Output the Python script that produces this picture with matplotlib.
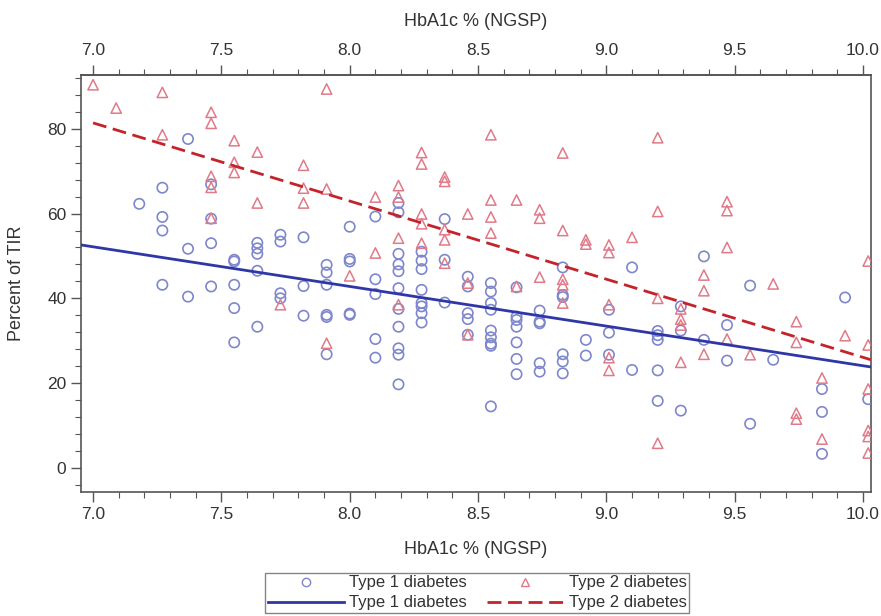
import matplotlib
matplotlib.use("Agg")
import matplotlib.pyplot as plt
from matplotlib.ticker import MultipleLocator
from matplotlib.lines import Line2D

plt.rcParams['font.family'] = ['Liberation Sans', 'DejaVu Sans']

# ---- data ----
t1_cols = [7.18, 7.27, 7.37, 7.46, 7.55, 7.64, 7.73, 7.82, 7.91, 8.00, 8.10, 8.19, 8.28,
           8.37, 8.46, 8.55, 8.65, 8.74, 8.83, 8.92, 9.01, 9.10, 9.20, 9.29, 9.38, 9.47,
           9.56, 9.65, 9.84, 9.93, 10.02]
t1_vals = [[62.3], [66.1, 59.2, 56.0, 43.2], [77.6, 51.7, 40.4], [66.9, 58.8, 53.0, 42.8],
           [49.1, 48.7, 43.2, 37.7, 29.6], [53.1, 51.8, 50.5, 46.5, 33.3],
           [55.0, 53.4, 41.2, 40.0], [54.4, 42.9, 35.9], [47.9, 46.1, 43.2, 36.1, 35.6, 26.8],
           [56.9, 49.3, 48.7, 36.4, 36.1], [59.3, 44.5, 41.0, 30.4, 26.0],
           [62.5, 60.3, 50.5, 48.0, 46.4, 42.4, 37.5, 33.3, 28.2, 26.7, 19.7],
           [51.0, 48.9, 46.9, 42.0, 38.9, 38.1, 36.5, 34.3], [58.7, 49.1, 39.0],
           [45.1, 42.8, 36.5, 35.1, 31.4], [43.6, 41.6, 38.9, 37.3, 32.4, 30.8, 29.3, 28.8, 14.5],
           [42.6, 35.7, 34.9, 33.3, 29.6, 25.7, 22.1], [37.1, 34.5, 34.1, 24.7, 22.7],
           [47.3, 40.8, 40.3, 26.8, 25.1, 22.3], [30.2, 26.5], [37.3, 31.9, 26.7], [47.3, 23.1],
           [32.3, 31.3, 30.2, 23.0, 15.8], [38.1, 32.4, 13.5], [49.9, 30.2], [33.7, 25.3],
           [43.0, 10.4], [25.5], [18.6, 13.2, 3.3], [40.2], [16.2]]

t2_cols = [7.00, 7.09, 7.27, 7.46, 7.55, 7.64, 7.73, 7.82, 7.91, 8.00, 8.10, 8.19, 8.28,
           8.37, 8.46, 8.55, 8.65, 8.74, 8.83, 8.92, 9.01, 9.10, 9.20, 9.29, 9.38, 9.47,
           9.56, 9.65, 9.74, 9.84, 9.93, 10.02]
t2_vals = [[90.4], [84.9], [88.6, 78.6], [83.9, 81.3, 68.8, 66.2, 58.9], [77.2, 72.1, 69.7],
           [74.5, 62.5], [38.5], [71.4, 66.0, 62.5], [89.4, 65.8, 29.4], [45.3], [63.9, 50.7],
           [66.6, 63.9, 54.2, 38.5], [74.4, 71.7, 59.9, 57.6, 53.0],
           [68.6, 67.6, 56.2, 53.8, 48.3], [59.9, 43.6, 31.4], [78.6, 63.2, 59.2, 55.4],
           [63.2, 42.8], [60.9, 58.9, 45.0], [74.3, 56.0, 44.5, 43.2, 38.9], [53.8, 52.8],
           [52.6, 50.8, 38.5, 26.0, 23.0], [54.4], [77.9, 60.5, 40.0, 5.8],
           [37.5, 35.1, 33.7, 24.9], [45.5, 41.8, 26.8], [62.8, 60.7, 52.0, 30.4], [26.7],
           [43.4], [34.5, 29.6, 12.9, 11.5], [21.2, 6.8], [31.2],
           [48.8, 29.0, 18.6, 8.8, 7.4, 3.5]]

# fitted regression lines (end points)
t1_fit_x = [6.953, 10.031]
t1_fit_y = [52.6, 23.8]
t2_fit_x = [7.00, 10.031]
t2_fit_y = [81.4, 25.5]

xticks = [7.0, 7.5, 8.0, 8.5, 9.0, 9.5, 10.0]
yticks = [0, 20, 40, 60, 80]

t1_x = [c for c, vs in zip(t1_cols, t1_vals) for _ in vs]
t1_y = [v for vs in t1_vals for v in vs]
t2_x = [c for c, vs in zip(t2_cols, t2_vals) for _ in vs]
t2_y = [v for vs in t2_vals for v in vs]

# ---- styling ----
c1_mark = '#7f87cc'
c2_mark = '#e07a88'
c1_line = '#2f37a6'
c2_line = '#c4232b'
spine_c = '#555555'
text_c = '#333333'

fig = plt.figure(figsize=(8.81, 6.16), dpi=100)
ax = fig.add_axes([81 / 881, 1 - 492 / 616, 790 / 881, 417 / 616])

ax.scatter(t1_x, t1_y, s=55, marker='o', facecolors='none', edgecolors=c1_mark,
           linewidths=1.2, zorder=3)
ax.scatter(t2_x, t2_y, s=55, marker='^', facecolors='none', edgecolors=c2_mark,
           linewidths=1.1, zorder=3)
ax.plot(t1_fit_x, t1_fit_y, color=c1_line, lw=2.0, zorder=4)
ax.plot(t2_fit_x, t2_fit_y, color=c2_line, lw=2.0, ls=(0, (5, 2.4)), zorder=4)

ax.set_xlim(6.953, 10.031)
ax.set_ylim(-5.7, 92.7)
ax.set_xticks(xticks)
ax.set_xticklabels([f'{v:.1f}' for v in xticks])
ax.set_yticks(yticks)
ax.xaxis.set_minor_locator(MultipleLocator(0.1))
ax.yaxis.set_minor_locator(MultipleLocator(4))

for s in ax.spines.values():
    s.set_color(spine_c)
    s.set_linewidth(1.2)

ax.tick_params(axis='both', which='major', length=7, width=1.0, color=spine_c,
               labelsize=12.5, labelcolor=text_c)
ax.tick_params(axis='both', which='minor', length=4, width=0.8, color=spine_c)
ax.tick_params(axis='x', which='both', top=False)

sec = ax.secondary_xaxis('top')
sec.set_xticks(xticks)
sec.set_xticklabels([f'{v:.1f}' for v in xticks])
sec.xaxis.set_minor_locator(MultipleLocator(0.1))
sec.tick_params(axis='x', which='major', length=7, width=1.0, color=spine_c,
                labelsize=12.5, labelcolor=text_c, pad=5.5)
sec.tick_params(axis='x', which='minor', length=4, width=0.8, color=spine_c)
sec.spines['top'].set_color(spine_c)
sec.spines['top'].set_linewidth(1.2)
sec.set_xlabel('HbA1c % (NGSP)', fontsize=13, color=text_c, labelpad=12)

ax.set_xlabel('HbA1c % (NGSP)', fontsize=13, color=text_c, labelpad=14)
ax.set_ylabel('Percent of TIR', fontsize=13, color=text_c, labelpad=16)

handles = [
    Line2D([], [], ls='none', marker='o', mfc='none', mec=c1_mark, ms=6),
    Line2D([], [], color=c1_line, lw=2.0),
    Line2D([], [], ls='none', marker='^', mfc='none', mec=c2_mark, ms=6),
    Line2D([], [], color=c2_line, lw=2.0, ls=(0, (5, 2.4))),
]
labels = ['Type 1 diabetes', 'Type 1 diabetes', 'Type 2 diabetes', 'Type 2 diabetes']
leg = fig.legend(handles, labels, ncol=2, loc='center', bbox_to_anchor=(477 / 881, 1 - 593 / 616),
                 fontsize=12, frameon=True, fancybox=False, edgecolor='#666666',
                 handlelength=4.6, handletextpad=0.3, columnspacing=1.2,
                 labelspacing=0.3, borderpad=0.15, borderaxespad=0)
leg.get_frame().set_linewidth(1.0)
for t in leg.get_texts():
    t.set_color(text_c)

fig.savefig('out.png', dpi=100)
